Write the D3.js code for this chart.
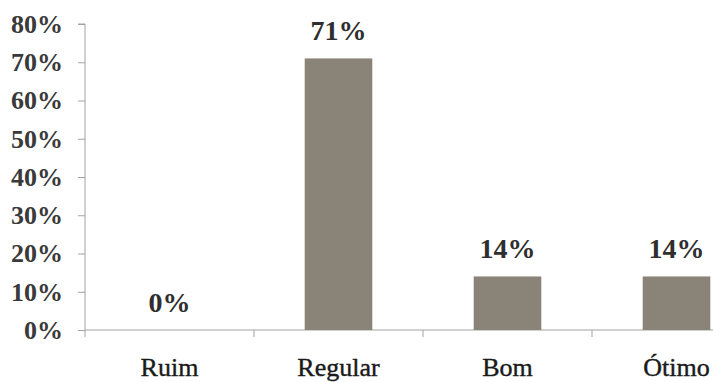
<!DOCTYPE html>
<html>
<head>
<meta charset="utf-8">
<script src="https://cdn.jsdelivr.net/npm/d3@7"></script>
<style>
  html, body { margin: 0; padding: 0; background: #fff; }
  svg { display: block; }
  text { font-family: "Liberation Serif", "Times New Roman", serif; }
</style>
</head>
<body>
<svg id="chart" width="713" height="382"></svg>
<script>
// Avaliação: percentual de respostas por categoria
const categories = ["Ruim", "Regular", "Bom", "Ótimo"];
const values = [0, 0.71, 0.14, 0.14];
const valueLabels = ["0%", "71%", "14%", "14%"];
const yTicks = [0, 0.1, 0.2, 0.3, 0.4, 0.5, 0.6, 0.7, 0.8];

const svg = d3.select("#chart");
const plotLeft = 85, plotRight = 761, plotTop = 24, plotBottom = 330;

const x = d3.scaleBand()
  .domain(categories)
  .range([plotLeft, plotRight])
  .paddingInner(0.6)
  .paddingOuter(0.3);

const y = d3.scaleLinear()
  .domain([0, 0.8])
  .range([plotBottom, plotTop]);

const axisColor = "#a3a3a3";

// Y axis
const yAxis = svg.append("g")
  .attr("transform", `translate(${plotLeft},0)`)
  .call(d3.axisLeft(y).tickValues(yTicks).tickFormat(d3.format(".0%")).tickSize(7).tickPadding(15));
yAxis.select(".domain").attr("stroke", axisColor).attr("d", `M-7,${plotTop}H0V${plotBottom + 7}`);
yAxis.selectAll(".tick line").attr("stroke", axisColor);
yAxis.selectAll(".tick text")
  .attr("font-size", 26)
  .attr("font-weight", "bold")
  .attr("fill", "#3a3a3a");

// X axis baseline with ticks at category boundaries
const step = x.step();
const boundaries = categories.slice(1).map(c => x(c) - x.paddingInner() * step / 2);
svg.append("line")
  .attr("x1", plotLeft).attr("x2", 713)
  .attr("y1", plotBottom).attr("y2", plotBottom)
  .attr("stroke", axisColor);
svg.selectAll(".xtick")
  .data(boundaries)
  .join("line")
  .attr("class", "xtick")
  .attr("x1", d => d).attr("x2", d => d)
  .attr("y1", plotBottom).attr("y2", plotBottom + 7)
  .attr("stroke", axisColor);

// Bars
svg.selectAll(".bar")
  .data(values)
  .join("rect")
  .attr("class", "bar")
  .attr("x", (d, i) => x(categories[i]))
  .attr("width", x.bandwidth())
  .attr("y", d => y(d))
  .attr("height", d => plotBottom - y(d))
  .attr("fill", "#8a8478");

// Value labels above bars
svg.selectAll(".vlabel")
  .data(values)
  .join("text")
  .attr("class", "vlabel")
  .attr("x", (d, i) => x(categories[i]) + x.bandwidth() / 2)
  .attr("y", d => y(d) - 18)
  .attr("text-anchor", "middle")
  .attr("font-size", 28)
  .attr("font-weight", "bold")
  .attr("fill", "#2e2e2e")
  .text((d, i) => valueLabels[i]);

// Category labels
svg.selectAll(".clabel")
  .data(categories)
  .join("text")
  .attr("class", "clabel")
  .attr("x", d => x(d) + x.bandwidth() / 2)
  .attr("y", 376)
  .attr("text-anchor", "middle")
  .attr("font-size", 26)
  .attr("fill", "#1a1a1a")
  .attr("stroke", "#1a1a1a")
  .attr("stroke-width", 0.4)
  .text(d => d);
</script>
</body>
</html>
